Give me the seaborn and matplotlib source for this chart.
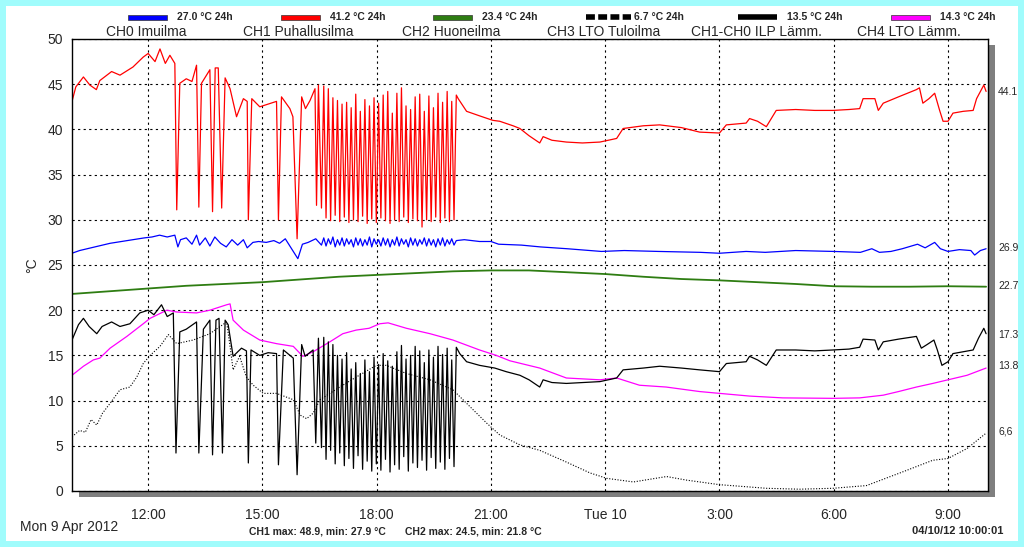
import numpy as np
import matplotlib
matplotlib.use("Agg")
import matplotlib.pyplot as plt
import matplotlib.transforms as mtransforms
from matplotlib.patches import Rectangle
from matplotlib.lines import Line2D
import seaborn as sns

sns.set_style("white")
plt.rcParams['font.family'] = ['Liberation Sans', 'DejaVu Sans']

# hours after Mon 9 Apr 2012 10:00
tick_hours = [2, 5, 8, 11, 14, 17, 20, 23]
tick_labels = ['12:00', '15:00', '18:00', '21:00', 'Tue 10', '3:00', '6:00', '9:00']

# oscillating section 16:33 .. 20:05, one value per sample
burst_start = 6.55
burst_step = 0.06

ch0_pre_t = [0, 0.2, 0.5, 0.8, 1.0, 1.3, 1.6, 1.9, 2.1, 2.3, 2.5, 2.7, 2.78, 2.85, 3.0, 3.15, 3.27, 3.35,
             3.5, 3.62, 3.75, 3.9, 4.05, 4.2, 4.35, 4.5, 4.6, 4.75, 4.9, 5.1, 5.3, 5.45, 5.6, 5.75, 5.93,
             6.05, 6.2, 6.4]
ch0_pre_v = [26.3, 26.6, 26.9, 27.2, 27.4, 27.6, 27.8, 28.0, 28.1, 28.3, 28.1, 28.3, 27.0, 27.8, 28.0, 27.3,
             28.3, 27.2, 28.0, 27.1, 28.1, 27.4, 27.0, 27.8, 27.2, 27.8, 26.9, 27.5, 27.6, 27.5, 27.7, 27.4,
             27.9, 26.9, 25.7, 27.3, 27.5, 27.9]
ch0_burst = [27.2, 28.0, 27.1, 27.9, 27.3, 28.1, 27.0, 27.8, 27.2, 28.0, 27.1, 27.9, 27.3, 27.8, 27.0, 28.0,
             27.2, 27.9, 27.1, 27.8, 27.2, 28.1, 27.0, 27.9, 27.3, 27.8, 27.1, 28.0, 27.2, 27.9, 27.0, 27.8,
             27.2, 28.1, 27.1, 27.9, 27.3, 27.8, 27.0, 28.0, 27.2, 27.9, 27.1, 27.8, 27.3, 28.0, 27.1, 27.9,
             27.2, 27.8, 27.0, 27.9, 27.2, 28.0, 27.1, 27.8, 27.3, 27.9, 27.2, 27.7]
ch0_post_t = [10.3, 10.7, 11.0, 11.2, 11.8, 12.3, 13.0, 13.9, 14.5, 15.4, 16.5, 17.0, 17.7, 18.2, 19.0, 20.0,
              20.7, 21.0, 21.2, 21.5, 21.8, 22.2, 22.4, 22.65, 22.8, 23.0, 23.3, 23.6, 23.7, 23.85, 24.0]
ch0_post_v = [27.8, 27.6, 27.6, 27.3, 27.2, 27.0, 26.8, 26.5, 26.6, 26.5, 26.4, 26.3, 26.5, 26.4, 26.6, 26.5,
              26.4, 26.8, 26.4, 26.5, 26.8, 27.3, 26.9, 27.5, 26.8, 26.5, 26.7, 26.6, 26.1, 26.6, 26.8]

ch1_pre_t = [0.0, 0.1, 0.3, 0.47, 0.64, 0.73, 1.04, 1.26, 1.6, 1.87, 2.0, 2.18, 2.31, 2.45, 2.57, 2.7, 2.75,
             2.83, 3.0, 3.15, 3.27, 3.33, 3.4, 3.62, 3.69, 3.76, 3.84, 3.93, 4.02, 4.15, 4.32, 4.5, 4.6, 4.63,
             4.72, 4.93, 5.15, 5.37, 5.42, 5.5, 5.72, 5.8, 5.91, 6.03, 6.13, 6.25, 6.38, 6.42, 6.47]
ch1_pre_v = [43.1, 44.7, 45.8, 44.9, 44.4, 45.4, 46.4, 46.0, 46.9, 48.0, 48.4, 47.5, 48.9, 47.3, 48.2, 47.3,
             31.1, 45.1, 45.6, 45.3, 47.1, 31.4, 45.1, 46.6, 30.9, 46.8, 46.8, 31.3, 45.7, 44.5, 41.4, 43.4,
             43.1, 30.0, 43.4, 42.5, 42.8, 43.1, 30.0, 43.6, 42.3, 41.4, 27.9, 43.6, 42.3, 43.2, 44.5, 31.6,
             44.9]
ch1_burst = [31.3, 44.8, 30.2, 44.5, 29.9, 43.5, 30.5, 43.2, 29.8, 42.8, 30.3, 43.0, 29.7, 42.4, 30.0, 43.9,
             29.8, 42.0, 30.4, 43.3, 29.6, 42.6, 30.1, 43.5, 29.7, 42.9, 30.2, 43.8, 29.9, 44.2, 29.6, 41.8,
             30.0, 44.0, 29.8, 44.6, 30.3, 42.6, 29.7, 42.2, 30.1, 43.6, 29.9, 43.9, 29.2, 42.0, 30.0, 43.7,
             29.8, 42.4, 30.3, 44.0, 29.7, 43.0, 30.2, 44.2, 29.8, 43.1, 30.0, 43.8]
ch1_post_t = [10.14, 10.36, 10.7, 11.05, 11.23, 11.58, 11.76, 12.0, 12.28, 12.37, 12.6, 12.98, 13.4, 13.86,
              14.3, 14.47, 15.0, 15.43, 16.0, 16.48, 17.0, 17.18, 17.7, 17.79, 18.0, 18.23, 18.49, 19.0, 19.5,
              19.98, 20.4, 20.68, 20.77, 21.08, 21.17, 21.3, 21.7, 22.17, 22.25, 22.34, 22.5, 22.65, 22.78,
              22.87, 23.0, 23.13, 23.4, 23.66, 23.75, 23.94, 24.0]
ch1_post_v = [43.4, 42.0, 41.5, 41.0, 40.9, 40.4, 40.1, 39.3, 38.5, 39.2, 38.8, 38.6, 38.5, 38.6, 39.0, 40.1,
              40.4, 40.5, 40.2, 39.7, 39.6, 40.5, 40.7, 41.2, 40.9, 40.3, 42.1, 42.2, 42.1, 42.1, 42.2, 42.3,
              43.4, 43.4, 42.1, 42.9, 43.6, 44.4, 44.6, 42.9, 43.4, 44.0, 42.1, 40.9, 40.9, 41.8, 42.0, 42.1,
              43.4, 44.9, 44.2]

ch2_t = [0, 1, 2, 3, 4, 5, 6, 7, 8, 9, 10, 11, 12, 13, 14, 15, 16, 17, 18, 19, 20, 21, 22, 23, 24]
ch2_v = [21.8, 22.1, 22.4, 22.7, 22.9, 23.1, 23.4, 23.7, 23.9, 24.1, 24.3, 24.4, 24.4, 24.2, 24.0, 23.7,
         23.45, 23.3, 23.1, 22.9, 22.65, 22.6, 22.6, 22.65, 22.6]

ch3_t = [0.0, 0.2, 0.35, 0.5, 0.65, 0.8, 1.0, 1.26, 1.52, 1.7, 1.87, 2.05, 2.31, 2.53, 2.75, 3.18, 3.62, 4.06,
         4.15, 4.23, 4.4, 4.58, 4.76, 5.02, 5.37, 5.81, 5.99, 6.16, 6.33, 6.51, 6.77, 7.03, 7.46, 7.99, 8.25,
         8.78, 9.4, 10.0, 10.36, 10.89, 11.23, 11.76, 12.28, 12.98, 13.6, 14.04, 14.74, 15.61, 16.14, 17.0,
         18.23, 19.1, 19.98, 20.86, 21.74, 22.6, 23.0, 23.5, 24.0]
ch3_v = [6.0, 6.7, 6.5, 7.9, 7.3, 8.6, 9.7, 11.2, 11.5, 12.6, 14.1, 15.0, 16.0, 17.3, 16.3, 16.7, 17.4, 18.7,
         16.0, 13.4, 14.9, 12.6, 11.7, 10.8, 10.8, 10.1, 8.4, 8.0, 8.6, 10.1, 10.8, 11.5, 12.6, 13.9, 13.9,
         13.0, 12.3, 11.2, 9.7, 7.5, 6.2, 5.1, 4.5, 3.2, 2.0, 1.4, 1.0, 1.6, 1.2, 0.7, 0.3, 0.2, 0.3, 0.6,
         2.0, 3.4, 3.6, 4.7, 6.4]

dif_pre_t = [0.0, 0.17, 0.3, 0.45, 0.65, 0.79, 1.04, 1.26, 1.52, 1.78, 2.0, 2.15, 2.35, 2.5, 2.66, 2.73,
             2.83, 3.0, 3.27, 3.33, 3.45, 3.62, 3.69, 3.78, 3.86, 3.95, 4.02, 4.1, 4.23, 4.45, 4.58, 4.63,
             4.7, 4.93, 5.15, 5.37, 5.42, 5.55, 5.81, 5.91, 6.03, 6.12, 6.33, 6.4, 6.47]
dif_pre_v = [16.7, 18.4, 19.1, 18.2, 17.4, 18.2, 18.7, 18.2, 18.5, 19.7, 20.0, 19.5, 20.6, 19.3, 19.7, 4.2,
             17.6, 17.9, 18.7, 4.2, 17.9, 18.9, 4.0, 18.9, 19.1, 4.2, 18.9, 18.4, 14.9, 15.8, 15.5, 3.1,
             15.6, 15.0, 15.3, 15.2, 2.9, 15.6, 14.7, 1.8, 16.2, 14.9, 15.6, 5.3, 16.9]
dif_burst = [4.8, 17.0, 3.5, 16.5, 4.5, 16.2, 3.0, 15.0, 4.2, 14.6, 2.8, 15.3, 3.6, 13.5, 2.5, 14.2,
             3.9, 13.0, 2.4, 14.5, 3.3, 13.2, 2.2, 14.8, 3.0, 14.0, 2.3, 15.2, 3.5, 14.4, 2.1, 13.8,
             2.9, 15.4, 2.4, 16.1, 3.8, 14.6, 2.2, 15.0, 3.1, 16.0, 2.6, 15.5, 3.4, 14.2, 2.3, 15.6,
             3.7, 14.8, 2.5, 16.0, 3.2, 15.1, 2.4, 15.8, 3.6, 14.5, 2.7, 15.9]
dif_post_t = [10.18, 10.36, 10.7, 11.1, 11.4, 11.76, 12.0, 12.28, 12.37, 12.6, 12.98, 13.4, 13.86, 14.3,
              14.47, 15.0, 15.43, 16.0, 16.48, 17.0, 17.18, 17.7, 17.79, 18.0, 18.23, 18.49, 19.0, 19.5,
              19.98, 20.4, 20.68, 20.77, 21.08, 21.17, 21.3, 21.7, 22.17, 22.3, 22.45, 22.63, 22.72, 22.84,
              23.0, 23.13, 23.4, 23.66, 23.8, 23.94, 24.0]
dif_post_v = [15.2, 14.3, 13.9, 13.6, 13.2, 12.8, 12.3, 11.5, 12.3, 12.0, 11.9, 12.0, 12.1, 12.5, 13.4, 13.6,
              13.8, 13.6, 13.4, 13.2, 14.1, 14.3, 14.9, 14.5, 13.9, 15.6, 15.6, 15.5, 15.6, 15.7, 15.9, 16.8,
              16.7, 15.6, 16.5, 16.8, 17.1, 15.8, 16.2, 16.7, 15.6, 13.9, 14.3, 15.2, 15.4, 15.6, 16.9, 18.0,
              17.4]

ch4_t = [0.0, 0.3, 0.56, 0.73, 1.0, 1.44, 1.87, 2.05, 2.49, 2.75, 3.27, 3.62, 4.06, 4.15, 4.23, 4.5, 4.93,
         5.37, 5.81, 6.06, 6.33, 6.77, 7.11, 7.46, 7.8, 8.08, 8.3, 8.78, 9.4, 10.0, 10.7, 11.14, 11.5, 12.28,
         12.98, 13.86, 14.3, 14.9, 15.6, 16.48, 17.0, 17.79, 18.66, 19.98, 20.68, 21.3, 21.7, 22.17, 22.6,
         23.0, 23.5, 24.0]
ch4_v = [12.8, 13.8, 14.5, 14.7, 15.8, 17.1, 18.5, 19.1, 20.0, 19.8, 19.7, 20.0, 20.6, 20.7, 18.9, 17.8,
         16.7, 16.3, 16.0, 14.9, 15.4, 16.5, 17.4, 17.8, 18.0, 18.5, 18.6, 18.0, 17.4, 16.7, 15.6, 15.0, 14.4,
         13.6, 12.5, 12.3, 12.5, 11.7, 11.5, 11.0, 10.8, 10.5, 10.3, 10.25, 10.3, 10.6, 11.0, 11.5, 11.9,
         12.3, 12.8, 13.6]

names = ['CH0 Imuilma', 'CH1 Puhallusilma', 'CH2 Huoneilma', 'CH3 LTO Tuloilma',
         'CH1-CH0 ILP Lämm.', 'CH4 LTO Lämm.']
avg_labels = ['27.0 °C 24h', '41.2 °C 24h', '23.4 °C 24h', '6.7 °C 24h', '13.5 °C 24h', '14.3 °C 24h']
colors = ['#0000ff', '#ff0000', '#2e7d12', '#000000', '#000000', '#ff00ff']
last_values = [44.1, 26.9, 22.7, 17.3, 13.8, 6.6]


def join(pre_t, pre_v, burst, post_t, post_v):
    bt = burst_start + burst_step * np.arange(len(burst))
    return np.concatenate([pre_t, bt, post_t]), np.concatenate([pre_v, burst, post_v])


ch0_t, ch0_v = join(ch0_pre_t, ch0_pre_v, ch0_burst, ch0_post_t, ch0_post_v)
ch1_t, ch1_v = join(ch1_pre_t, ch1_pre_v, ch1_burst, ch1_post_t, ch1_post_v)
dif_t, dif_v = join(dif_pre_t, dif_pre_v, dif_burst, dif_post_t, dif_post_v)

W, H = 1024, 547
fig = plt.figure(figsize=(W / 100, H / 100), dpi=100, facecolor='#a0fcfc')
fig.patches.append(Rectangle((6 / W, 6 / H), 1012 / W, 535 / H, transform=fig.transFigure,
                             facecolor='white', edgecolor='none', zorder=-3))
# drop shadow of the plot frame
fig.patches.append(Rectangle((79 / W, 50 / H), 916 / W, 452 / H, transform=fig.transFigure,
                             facecolor='#7f7f7f', edgecolor='none', zorder=-2))

ax = fig.add_axes([72 / W, 56 / H, 916 / W, 452 / H])
ax.set_facecolor('white')

sns.lineplot(x=ch2_t, y=ch2_v, ax=ax, color=colors[2], linewidth=1.3, estimator=None)
sns.lineplot(x=ch3_t, y=ch3_v, ax=ax, color='black', linewidth=0.8, linestyle=(0, (1, 1.5)), estimator=None)
sns.lineplot(x=ch4_t, y=ch4_v, ax=ax, color=colors[5], linewidth=0.9, estimator=None)
sns.lineplot(x=dif_t, y=dif_v, ax=ax, color='black', linewidth=0.9, estimator=None)
sns.lineplot(x=ch0_t, y=ch0_v, ax=ax, color=colors[0], linewidth=0.9, estimator=None)
sns.lineplot(x=ch1_t, y=ch1_v, ax=ax, color=colors[1], linewidth=0.9, estimator=None)

ax.set_xlim(0, 24.05)
ax.set_ylim(0, 50)
ax.set_xticks(tick_hours)
ax.set_xticklabels(tick_labels)
ax.set_xticks(np.arange(1, 24), minor=True)
ax.set_yticks(np.arange(0, 51, 5))
ax.set_yticks(np.arange(0, 51, 1), minor=True)
ax.tick_params(axis='both', which='major', labelsize=10, length=3, color='black')
ax.tick_params(axis='x', which='major', pad=12, length=0)
ax.tick_params(axis='both', which='minor', direction='in', length=3, width=0.8, color='black')
ax.grid(True, which='major', color='black', linestyle=(0, (2, 3)), linewidth=0.8)
for s in ax.spines.values():
    s.set_color('black')
    s.set_linewidth(1.0)
ax.set_xlabel('')
ax.set_ylabel('°C', fontsize=10, labelpad=6)

trans = mtransforms.blended_transform_factory(ax.transAxes, ax.transData)
for val in last_values:
    ax.text(1.011, val, f'{val:.1f}'.replace('6.6', '6,6'), transform=trans, fontsize=7.5,
            va='center', ha='left', clip_on=False)

# legend across the top
for i, (name, lab, col) in enumerate(zip(names, avg_labels, colors)):
    x0 = 128 + i * 152.5
    yb = 1 - 17 / H
    if i == 3:
        fig.add_artist(Line2D([x0 / W, (x0 + 45) / W], [yb, yb], transform=fig.transFigure,
                              color='black', linewidth=4, linestyle=(0, (1.6, 0.6)),
                              dash_capstyle='butt'))
    elif i == 4:
        fig.add_artist(Line2D([x0 / W, (x0 + 39) / W], [yb, yb], transform=fig.transFigure,
                              color='black', linewidth=4, solid_capstyle='butt'))
    else:
        fig.patches.append(Rectangle((x0 / W, yb - 2.5 / H), 39 / W, 5 / H, transform=fig.transFigure,
                                     facecolor=col, edgecolor='#333333', linewidth=0.5))
    fig.text((x0 + 49) / W, yb, lab, fontsize=7.5, fontweight='bold', va='center', ha='left')
    fig.text((x0 + 18) / W, 1 - 32 / H, name, fontsize=10, va='center', ha='center')

fig.text(20 / W, 1 - 527 / H, 'Mon 9 Apr 2012', fontsize=10, va='center', ha='left')
fig.text(249 / W, 1 - 531 / H, 'CH1 max: 48.9, min: 27.9 °C', fontsize=7.5, fontweight='bold',
         va='center', ha='left')
fig.text(405 / W, 1 - 531 / H, 'CH2 max: 24.5, min: 21.8 °C', fontsize=7.5, fontweight='bold',
         va='center', ha='left')
fig.text(1003 / W, 1 - 531 / H, '04/10/12 10:00:01', fontsize=8, fontweight='bold', va='center', ha='right')

fig.savefig('out.png', dpi=100, facecolor=fig.get_facecolor())
